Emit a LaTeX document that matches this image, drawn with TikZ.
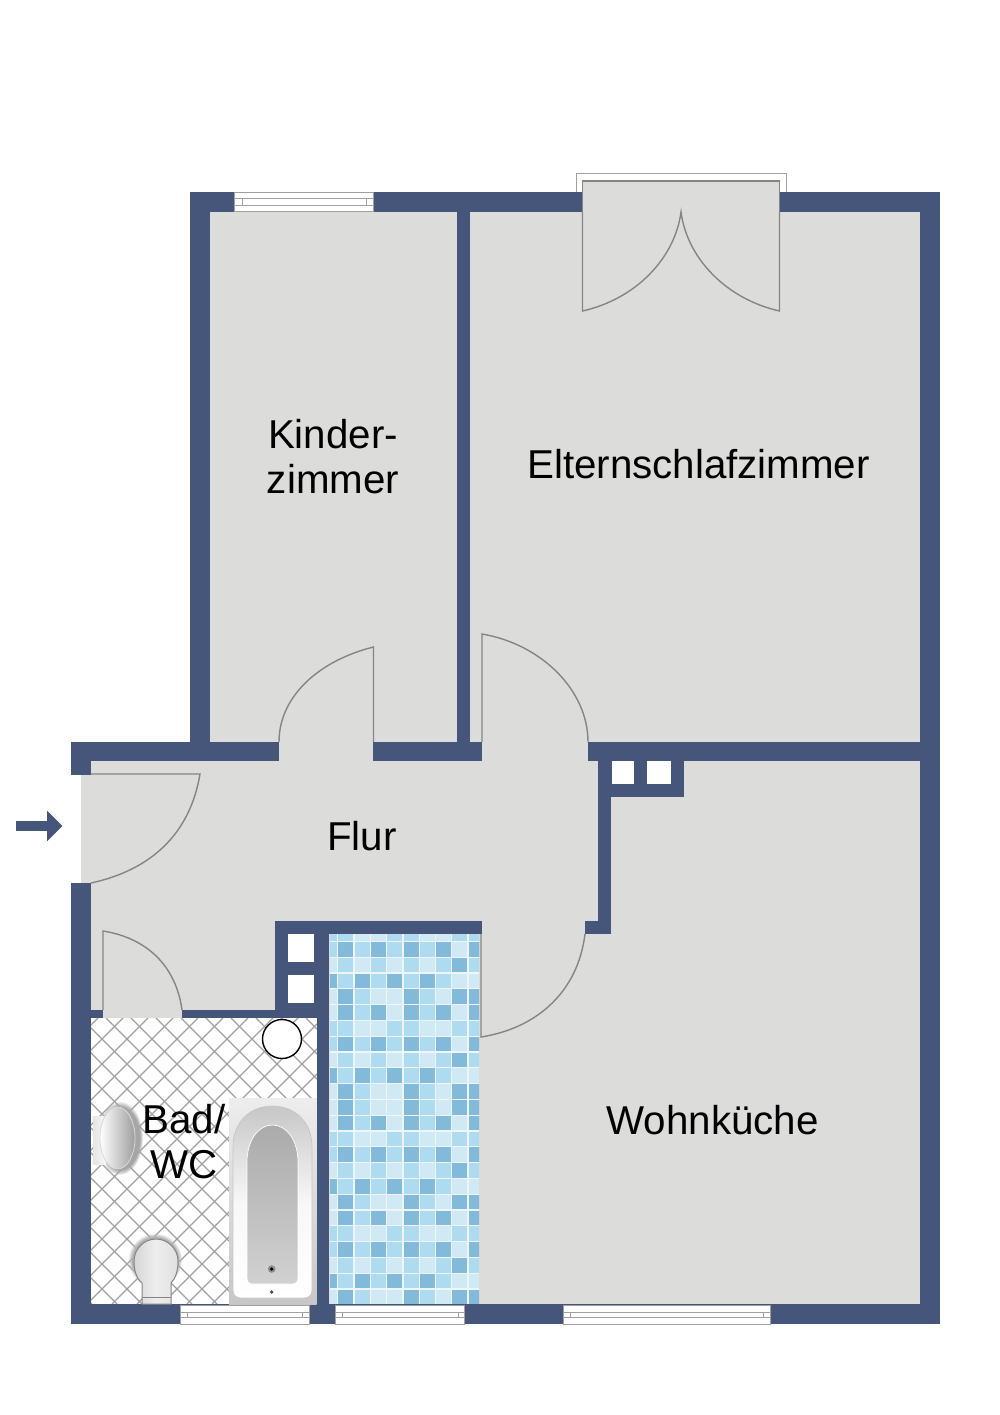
\documentclass[tikz,border=0pt]{standalone}
\usepackage{fontspec}
\setmainfont{Liberation Sans}
\usetikzlibrary{arrows.meta,fadings}

\definecolor{wallblue}{HTML}{45567A}
\definecolor{floorgray}{HTML}{DCDCDA}
\definecolor{doorgray}{HTML}{858585}
\definecolor{tilegray}{HTML}{A0A0A0}
\definecolor{mosaicbg}{HTML}{EDF7FB}
\definecolor{mosaicD}{HTML}{83BADA}
\definecolor{mosaicm}{HTML}{AEDBEF}
\definecolor{mosaicl}{HTML}{D0E9F4}

\tikzset{
  wall/.style={fill=wallblue},
  floorarea/.style={fill=floorgray},
  doorline/.style={draw=doorgray,line width=1.4pt},
  windowline/.style={draw=tilegray,line width=1pt},
  room/.style={font=\fontsize{40.3}{45}\selectfont,align=center,inner sep=0pt},
}

\def\rowa{m,m,l,l,m,m,l,l,m,m}
\def\rowb{m,D,m,D,m,D,m,D,l,D}
\def\rowc{l,m,l,m,l,m,l,m,D,m}
\def\rowd{D,m,D,m,D,m,D,m,l,l}
\def\rowe{l,D,m,l,l,D,m,l,D,D}
\def\rowf{l,D,m,D,l,D,m,D,l,D}

\begin{document}
\begin{tikzpicture}[x=1pt,y=-1pt]
  \useasboundingbox (0,0) rectangle (1000,1415);
  \fill[white] (0,0) rectangle (1000,1415);

  \fill[floorarea] (190,192) rectangle (940,1324);
  \fill[floorarea] (71,742) rectangle (610,1324);
  \fill[white] (71,774) rectangle (81,883);
  \fill[floorarea] (582.5,181) rectangle (779.5,212);

  \draw[windowline] (576,192) -- (576,174) -- (786,174) -- (786,192);

  % bathroom tiles
  \fill[white] (91,1018) rectangle (317,1304);
  \begin{scope}
    \clip (91,1018) rectangle (317,1304);
    \foreach \k in {-12,...,10}
      \draw[tilegray,line width=1.3pt] (-937+25*\k+1018,1018) -- (-937+25*\k+1304,1304);
    \foreach \k in {-2,...,20}
      \draw[tilegray,line width=1.3pt] (1141+25*\k-1018,1018) -- (1141+25*\k-1304,1304);
  \end{scope}

  % mosaic floor
  \fill[mosaicbg] (330,934) rectangle (479,1304);
  \begin{scope}
    \clip (330,934) rectangle (479,1304);
    \foreach \rowkind [count=\r from 0] in {\rowa,\rowb,\rowc,\rowd,\rowe,\rowf,\rowa,\rowb,\rowc,\rowd,\rowe,\rowe,\rowf,\rowa,\rowb,\rowc,\rowd,\rowe,\rowf,\rowa,\rowb,\rowc,\rowd,\rowe}{
      \edef\celllist{\rowkind}
      \foreach \c [count=\i from 0] in \celllist
        \fill[fill=mosaic\c] (322+16.3*\i,926.2+15.8*\r) rectangle ++(15,14.6);
    }
  \end{scope}

  \foreach \xa/\ya/\xb/\yb in {
    190/192/583/212, 780/192/940/212, 190/192/210/742, 920/192/940/1324,
    457/212/470/742, 71/742/279/761, 373/742/482/761, 588/742/940/761,
    598/761/684/797, 598/761/611/934, 585/921/611/934,
    71/742/91/775, 71/883/91/1324, 71/1304/940/1324,
    275/921/482/934, 275/921/329/1018, 317/1018/329/1324,
    91/1010/103/1018, 182/1010/275/1018}
    \fill[wall] (\xa,\ya) rectangle (\xb,\yb);

  \foreach \xa/\ya/\xb/\yb in {612/761/634/784, 647/761/671/784, 288/934/314/962, 288/975/314/1003}
    \fill[white] (\xa,\ya) rectangle (\xb,\yb);

  \foreach \xa/\xc/\xd/\xb/\ya/\yc/\yd/\yb in {
    234.5/242/366/373/193/199/206/212,
    180/187/302/309/1305.5/1312/1317/1324,
    335/342/458/464/1305.5/1312/1317/1324,
    563/570/763/770/1305.5/1312/1317/1324}{
    \draw[windowline,fill=white] (\xa,\ya) rectangle (\xb,\yb);
    \draw[windowline] (\xa,\yc) rectangle (\xb,\yd);
    \draw[windowline] (\xc,\yc) -- (\xc,\yd);
    \draw[windowline] (\xd,\yc) -- (\xd,\yd);
  }

  % doors
  \draw[doorline] (582.5,212) -- (582.5,181) -- (779.5,181) -- (779.5,212);
  \draw[doorline] (582.5,212) -- (582.5,311) .. controls (636,299) and (675,258) .. (681,212)
    .. controls (687,258) and (726,299) .. (779.5,311) -- (779.5,212);
  \draw[doorline] (373.5,742) -- (373.5,647) .. controls (321,660) and (279,695) .. (279,742);
  \draw[doorline] (482,742) -- (482,634) .. controls (541,644) and (588,690) .. (588,742);
  \draw[doorline] (91,774) -- (200,774) .. controls (190,834) and (151,870) .. (91,883);
  \draw[doorline] (481,934) -- (481,1037) .. controls (538,1028) and (578,991) .. (585,934);
  \draw[doorline] (103,1010) -- (103,931) .. controls (147,938) and (176,966) .. (182,1010);

  \coordinate (entrytail) at (16,826);
  \coordinate (entryhead) at (62.5,826);
  \draw[wallblue,line width=10pt,-{Triangle[width=30pt,length=15.5pt]}] (entrytail) -- (entryhead);

  % fixtures
  \draw[black,line width=1.4pt,fill=white] (282,1039) circle (19.5);

  \fill[black!35,path fading=circle with fuzzy edge 15 percent] (120,1138) ellipse (23 and 37);
  \shade[left color=white!90!black,right color=white!97!black] (93,1116) rectangle (106,1164);
  \draw[white!85!black,line width=0.8pt,left color=white,right color=white!62!black] (117.5,1138) ellipse (17.5 and 31);

  \fill[black!30,path fading=circle with fuzzy edge 15 percent] (155,1260) circle (27);
  \draw[doorgray,line width=1pt,left color=white!84!black,right color=white!88!black,middle color=white!93!black]
    (142,1304) -- (142,1283) .. controls (136,1278) and (134,1270) .. (134,1261)
    .. controls (134,1249) and (144,1239) .. (156,1239) .. controls (168,1239) and (178,1249) .. (178,1261)
    .. controls (178,1270) and (176,1278) .. (171,1283) -- (171,1304) -- cycle;
  \draw[doorgray,line width=0.8pt] (142,1297) -- (171,1297);

  \shade[top color=white!93!black,bottom color=white!78!black] (229,1098) rectangle (316.5,1304);
  \draw[white!78!black,line width=0.7pt,top color=white!78!black,bottom color=white,middle color=white!97!black]
    (233,1290) -- (233,1147) .. controls (233,1122) and (250,1106) .. (272.5,1106)
    .. controls (295,1106) and (312,1122) .. (312,1147) -- (312,1290)
    .. controls (312,1295) and (309,1298) .. (304,1298) -- (241,1298)
    .. controls (236,1298) and (233,1295) .. (233,1290) -- cycle;
  \draw[white,line width=0.7pt,top color=white!67!black,bottom color=white!82!black]
    (247,1279) -- (247,1162) .. controls (247,1141) and (258,1125) .. (272.5,1125)
    .. controls (287,1125) and (298,1141) .. (298,1162) -- (298,1279)
    .. controls (298,1282) and (296,1284) .. (293,1284) -- (252,1284)
    .. controls (249,1284) and (247,1282) .. (247,1279) -- cycle;
  \fill[black!45] (271.7,1269) circle (3.8);
  \fill[black] (271.7,1269) circle (1.8);
  \fill[black!70] (271.7,1292) circle (1.8);

  \node[room] (kinder) at (333,457) {Kinder-\\zimmer};
  \node[room,anchor=base] (eltern) at (698.5,478) {Elternschlafzimmer};
  \node[room,anchor=base] (flur) at (362,850) {Flur};
  \node[room,anchor=base] (kueche) at (712.5,1134) {Wohnküche};
  \node[room] (bad) at (184,1142) {Bad/\\WC};
\end{tikzpicture}
\end{document}
